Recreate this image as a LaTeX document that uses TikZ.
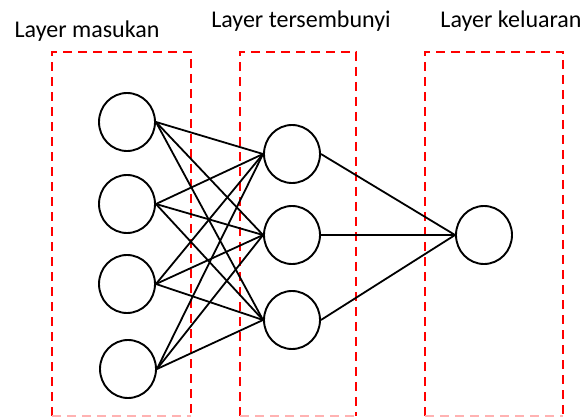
\documentclass[tikz,border=0pt]{standalone}
\usepackage{fontspec}
\setmainfont{Carlito}
\usetikzlibrary{shapes.geometric}
\begin{document}
\begin{tikzpicture}[x=1pt,y=-1pt,
  neuron/.style={draw=black, line width=1.9pt, ellipse, inner sep=0pt,
                 minimum width=56pt, minimum height=58pt},
  link/.style={draw=black, line width=1.8pt},
  layerbox/.style={draw=red, line width=2pt, dash pattern=on 9pt off 6pt},
  layerbottom/.style={draw=red!30, line width=2pt, dash pattern=on 9pt off 6pt},
  title/.style={anchor=base, inner sep=0pt, font=\fontsize{24}{28}\selectfont}]
\useasboundingbox (0,0) rectangle (587,417);

% dashed frames around each layer
\draw[layerbox] (52,416) -- (52,52) -- (191,52) -- (191,416);
\draw[layerbox] (240,416) -- (240,52) -- (356,52) -- (356,416);
\draw[layerbox] (425,416) -- (425,52) -- (563,52) -- (563,416);
\draw[layerbottom] (52,416) -- (191,416);
\draw[layerbottom] (240,416) -- (356,416);
\draw[layerbottom] (425,416) -- (563,416);

% layer titles
\node[title] (t1) at (87,38) {Layer masukan};
\node[title] (t2) at (301,28) {Layer tersembunyi};
\node[title] (t3) at (511,28) {Layer keluaran};

% neurons
\node[neuron] (i1) at (127,122) {};
\node[neuron] (i2) at (127,204) {};
\node[neuron] (i3) at (127,284) {};
\node[neuron] (i4) at (128,369) {};
\node[neuron] (h1) at (292,154) {};
\node[neuron] (h2) at (292,235) {};
\node[neuron] (h3) at (292,320) {};
\node[neuron] (o1) at (484,235) {};

% connections input -> hidden
\foreach \i in {i1,i2,i3,i4}
  \foreach \h in {h1,h2,h3}
    \draw[link] (\i.east) -- (\h.west);

% connections hidden -> output
\foreach \h in {h1,h2,h3}
  \draw[link] (\h.east) -- (o1.west);
\end{tikzpicture}
\end{document}
